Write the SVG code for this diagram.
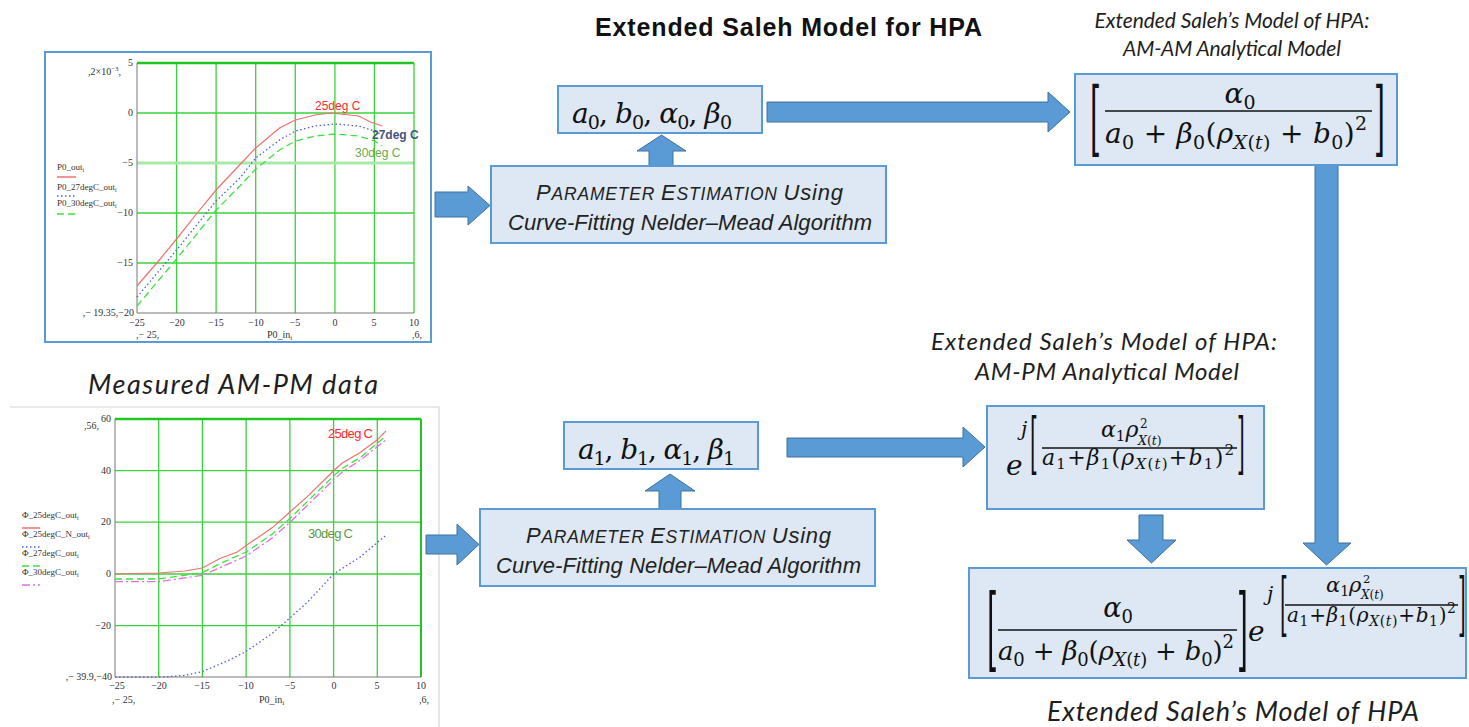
<svg xmlns="http://www.w3.org/2000/svg" width="1469" height="727" viewBox="0 0 1469 727">
<style>
.box{fill:#dde8f4;stroke:#5b9bd5;stroke-width:2}
.arr{fill:#5b9bd5;stroke:#41719c;stroke-width:1}
.m{font-family:"DejaVu Serif",serif;font-style:italic;fill:#111;white-space:pre}
.u{font-style:normal}
.br{font-family:"DejaVu Serif",serif;fill:#111}
.lbl{font-family:Lato,"Liberation Sans",sans-serif;font-style:italic;fill:#1e1e1e}
.est{font-family:"Liberation Sans",Arial,sans-serif;font-style:italic;fill:#222;white-space:pre}
.grid{stroke:#3ad23a;stroke-width:1.3;fill:none}
.tick{font-family:"Liberation Serif",serif;font-size:10px;fill:#333}
.leg{font-family:"Liberation Serif",serif;font-size:9px;fill:#333}
.cl{font-family:"Liberation Sans",Arial,sans-serif}
.bar{stroke:#111;stroke-width:1.4}
</style>

<g id="chart-amam-data">
  <rect x="45" y="52" width="386" height="290" fill="#fff" stroke="#5b9bd5" stroke-width="2"/>
  <g class="grid">
    <line x1="176.6" y1="63" x2="176.6" y2="313"/>
    <line x1="216.1" y1="63" x2="216.1" y2="313"/>
    <line x1="255.7" y1="63" x2="255.7" y2="313"/>
    <line x1="295.3" y1="63" x2="295.3" y2="313"/>
    <line x1="334.9" y1="63" x2="334.9" y2="313"/>
    <line x1="374.4" y1="63" x2="374.4" y2="313"/>
    <line x1="137" y1="113" x2="414" y2="113"/>
    <line x1="137" y1="163" x2="414" y2="163" stroke="#a8e8a8" stroke-width="3"/>
    <line x1="137" y1="213" x2="414" y2="213"/>
    <line x1="137" y1="263" x2="414" y2="263"/>
    <line x1="137" y1="63" x2="414" y2="63" stroke="#22c422" stroke-width="2.5"/>
    <line x1="414" y1="63" x2="414" y2="313"/>
  </g>
  <polyline points="137,63 137,313 414,313" fill="none" stroke="#777" stroke-width="1"/>
  <polyline fill="none" stroke="#f07070" stroke-width="1.2" points="137,286 156.8,263 176.6,239 196.4,214 216.1,190 232,173 255.7,148 279.5,128 295.3,120 315.1,115 331,113 358.6,116 370.5,122 382.3,126"/>
  <polyline fill="none" stroke="#4a5ee8" stroke-width="1.3" stroke-dasharray="1.5,2.5" points="137,297 176.6,250 216.1,201 239.9,178 255.7,158 279.5,140 295.3,131 315.1,126 335,124 358.6,126 374.4,131 382.3,135"/>
  <polyline fill="none" stroke="#3ee03e" stroke-width="1.3" stroke-dasharray="7,4" points="137,306 176.6,259 216.1,210 239.9,186 255.7,169 279.5,150 295.3,141 315.1,136 335,134 358.6,136 374.4,141 382.3,146"/>
  <text class="cl" x="315" y="110" font-size="12" fill="#ff2a2a">25deg C</text>
  <text class="cl" x="372" y="139" font-size="12" fill="#44557d" font-weight="bold">27deg C</text>
  <text class="cl" x="355" y="157" font-size="12" fill="#6aa84f">30deg C</text>
  <g class="tick" text-anchor="end">
    <text x="133" y="66">5</text>
    <text x="133" y="116">0</text>
    <text x="133" y="166">−5</text>
    <text x="133" y="216">−10</text>
    <text x="133" y="266">−15</text>
    <text x="134" y="316">,− 19.35,−20</text>
  </g>
  <text class="tick" x="88" y="75">,2×10<tspan font-size="7" dy="-4">−3</tspan><tspan dy="4">,</tspan></text>
  <g class="tick" text-anchor="middle">
    <text x="137" y="326">−25</text>
    <text x="177" y="326">−20</text>
    <text x="216" y="326">−15</text>
    <text x="256" y="326">−10</text>
    <text x="295" y="326">−5</text>
    <text x="335" y="326">0</text>
    <text x="374" y="326">5</text>
    <text x="414" y="326">10</text>
  </g>
  <text class="tick" x="136" y="338">,− 25,</text>
  <text class="tick" x="267" y="338">P0_in<tspan font-size="7" dy="2">i</tspan></text>
  <text class="tick" x="412" y="338">,6,</text>
  <text class="leg" x="57" y="170">P0_out<tspan font-size="6" dy="2">i</tspan></text>
  <line x1="57" y1="177" x2="76" y2="177" stroke="#f07070" stroke-width="1.5"/>
  <text class="leg" x="57" y="190">P0_27degC_out<tspan font-size="6" dy="2">i</tspan></text>
  <line x1="57" y1="196" x2="76" y2="196" stroke="#4a5ee8" stroke-width="1.3" stroke-dasharray="1.5,2.5"/>
  <text class="leg" x="57" y="206">P0_30degC_out<tspan font-size="6" dy="2">i</tspan></text>
  <line x1="57" y1="214" x2="76" y2="214" stroke="#3ee03e" stroke-width="1.3" stroke-dasharray="7,4"/>
</g>

<g id="label-measured">
  <text class="lbl" x="88" y="394" font-size="27" textLength="290">Measured AM-PM data</text>
</g>

<g id="chart-ampm-data">
  <polyline points="10,407 439,407 439,727" fill="none" stroke="#d4d4d4" stroke-width="1.2"/>
  <g class="grid">
    <line x1="158.7" y1="419" x2="158.7" y2="677"/>
    <line x1="202.4" y1="419" x2="202.4" y2="677"/>
    <line x1="246.1" y1="419" x2="246.1" y2="677"/>
    <line x1="289.9" y1="419" x2="289.9" y2="677"/>
    <line x1="333.6" y1="419" x2="333.6" y2="677"/>
    <line x1="377.3" y1="419" x2="377.3" y2="677"/>
    <line x1="115" y1="470.6" x2="421" y2="470.6"/>
    <line x1="115" y1="522.2" x2="421" y2="522.2"/>
    <line x1="115" y1="574" x2="421" y2="574"/>
    <line x1="115" y1="625.6" x2="421" y2="625.6"/>
    <line x1="115" y1="419" x2="421" y2="419" stroke="#22c422" stroke-width="2.5"/>
    <line x1="421" y1="419" x2="421" y2="677" stroke="#22c422" stroke-width="2"/>
  </g>
  <polyline points="115,419 115,677 421,677" fill="none" stroke="#777" stroke-width="1"/>
  <polyline fill="none" stroke="#f07070" stroke-width="1.2" points="115,574 158.7,573 185,571 202.4,568 219.9,558.5 237.4,552 246.1,545.6 272.4,527.6 289.9,512 307.3,496.6 333.6,470.8 342.3,463 359.8,452.7 377.3,439.8 386,430.8"/>
  <polyline fill="none" stroke="#3ee03e" stroke-width="1.3" stroke-dasharray="7,4" points="115,579 158.7,579 202.4,572.7 219.9,563.7 246.1,552 272.4,534 289.9,518.5 333.6,476 342.3,468.2 359.8,457.9 386,436"/>
  <polyline fill="none" stroke="#e070e0" stroke-width="1.3" stroke-dasharray="8,3,2,3" points="115,581.7 158.7,581.7 202.4,575.3 219.9,567.6 246.1,556 272.4,537.9 289.9,522.4 333.6,479.8 342.3,472 359.8,460.5 386,439.8"/>
  <polyline fill="none" stroke="#4a5ee8" stroke-width="1.3" stroke-dasharray="1.5,2.5" points="115,677.2 158.7,677.2 185,675.4 202.4,671.5 228.7,660.4 246.1,651.4 272.4,633.3 289.9,617.9 307.3,602.4 333.6,574 359.8,557.2 386,535.3"/>
  <text class="cl" x="328" y="438" font-size="13" fill="#ff2a2a" textLength="45">25deg C</text>
  <text class="cl" x="308" y="538" font-size="13" fill="#5e9a46" textLength="45">30deg C</text>
  <g class="tick" text-anchor="end">
    <text x="111" y="422">60</text>
    <text x="111" y="474">40</text>
    <text x="111" y="525">20</text>
    <text x="111" y="577">0</text>
    <text x="111" y="629">−20</text>
    <text x="112" y="680">,− 39.9,−40</text>
  </g>
  <text class="tick" x="84" y="429">,56,</text>
  <g class="tick" text-anchor="middle">
    <text x="117" y="689">−25</text>
    <text x="159" y="689">−20</text>
    <text x="202" y="689">−15</text>
    <text x="246" y="689">−10</text>
    <text x="290" y="689">−5</text>
    <text x="334" y="689">0</text>
    <text x="377" y="689">5</text>
    <text x="421" y="689">10</text>
  </g>
  <text class="tick" x="112" y="703">,− 25,</text>
  <text class="tick" x="259" y="703">P0_in<tspan font-size="7" dy="2">i</tspan></text>
  <text class="tick" x="419" y="703">,6,</text>
  <text class="leg" x="22" y="518">Φ_25degC_out<tspan font-size="6" dy="2">i</tspan></text>
  <line x1="22" y1="528" x2="40" y2="528" stroke="#f07070" stroke-width="1.5"/>
  <text class="leg" x="22" y="537">Φ_25degC_N_out<tspan font-size="6" dy="2">i</tspan></text>
  <line x1="22" y1="547" x2="40" y2="547" stroke="#4a5ee8" stroke-width="1.3" stroke-dasharray="1.5,2.5"/>
  <text class="leg" x="22" y="556">Φ_27degC_out<tspan font-size="6" dy="2">i</tspan></text>
  <line x1="22" y1="566" x2="40" y2="566" stroke="#3ee03e" stroke-width="1.5" stroke-dasharray="7,4"/>
  <text class="leg" x="22" y="575">Φ_30degC_out<tspan font-size="6" dy="2">i</tspan></text>
  <line x1="22" y1="585" x2="40" y2="585" stroke="#e070e0" stroke-width="1.5" stroke-dasharray="8,3,2,3"/>
</g>

<g id="title">
  <text x="595" y="36" font-family="'Liberation Sans',Arial,sans-serif" font-weight="bold" font-size="25" fill="#111" textLength="387">Extended Saleh Model for HPA</text>
</g>

<g id="connectors">
  <polygon class="arr" points="435,192 468,192 468,186 490,205.5 468,225 468,217 435,217"/>
  <polygon class="arr" points="649,166 649,151 637,151 661.5,135 686,151 673,151 673,166"/>
  <polygon class="arr" points="767,102 1048,102 1048,92 1070,112 1048,132 1048,122 767,122"/>
  <polygon class="arr" points="1315,165 1338,165 1338,543 1351,543 1326.5,565 1303,543 1315,543"/>
  <polygon class="arr" points="1139,515 1163,515 1163,540 1176,540 1151.5,563 1127,540 1139,540"/>
  <polygon class="arr" points="787,438 963,438 963,427 985,447 963,467 963,457 787,457"/>
  <polygon class="arr" points="659,509 659,491 645,491 670,474 695,491 681,491 681,509"/>
  <polygon class="arr" points="426,535 457,535 457,524 479,544.5 457,565 457,554 426,554"/>
</g>

<g id="node-params0">
  <rect class="box" x="558" y="86" width="204" height="47"/>
  <text class="m" x="572" y="123" font-size="28" textLength="160">a<tspan class="u" font-size="19" dy="6">0</tspan><tspan class="u" dy="-6">, </tspan>b<tspan class="u" font-size="19" dy="6">0</tspan><tspan class="u" dy="-6">, </tspan>α<tspan class="u" font-size="19" dy="6">0</tspan><tspan class="u" dy="-6">, </tspan>β<tspan class="u" font-size="19" dy="6">0</tspan></text>
</g>

<g id="node-estimation0">
  <rect class="box" x="491" y="166" width="395" height="77"/>
  <text class="est" x="536" y="200" font-size="22" textLength="307">P<tspan font-size="17.5">ARAMETER </tspan>E<tspan font-size="17.5">STIMATION </tspan>Using</text>
  <text class="est" x="508" y="230" font-size="22" textLength="364">Curve-Fitting Nelder–Mead Algorithm</text>
</g>

<g id="label-amam">
  <text class="lbl" x="1232" y="28" font-size="21" text-anchor="middle" textLength="275">Extended Saleh’s Model of HPA:</text>
  <text class="lbl" x="1232" y="56" font-size="21" text-anchor="middle" textLength="218">AM-AM Analytical Model</text>
</g>

<g id="node-amam">
  <rect class="box" x="1075" y="74" width="322" height="91"/>
  <text class="br" font-size="28" transform="translate(1090,146) scale(1,2.92)">[</text>
  <text class="br" font-size="28" transform="translate(1374,146) scale(1,2.92)">]</text>
  <text class="m" x="1240" y="103" font-size="28" text-anchor="middle">α<tspan class="u" font-size="19" dy="6">0</tspan></text>
  <line class="bar" x1="1105" y1="111" x2="1372" y2="111"/>
  <text class="m" x="1105" y="143" font-size="28" textLength="262">a<tspan class="u" font-size="19" dy="6">0</tspan><tspan class="u" dy="-6"> + </tspan>β<tspan class="u" font-size="19" dy="6">0</tspan><tspan class="u" dy="-6">(</tspan>ρ<tspan font-size="19" dy="6">X</tspan><tspan class="u" font-size="19">(</tspan><tspan font-size="19">t</tspan><tspan class="u" font-size="19">)</tspan><tspan class="u" dy="-6"> + </tspan>b<tspan class="u" font-size="19" dy="6">0</tspan><tspan class="u" dy="-6">)</tspan><tspan class="u" font-size="19" dy="-13">2</tspan></text>
</g>

<g id="node-params1">
  <rect class="box" x="564" y="422" width="194" height="47"/>
  <text class="m" x="578" y="459" font-size="28" textLength="157">a<tspan class="u" font-size="19" dy="6">1</tspan><tspan class="u" dy="-6">, </tspan>b<tspan class="u" font-size="19" dy="6">1</tspan><tspan class="u" dy="-6">, </tspan>α<tspan class="u" font-size="19" dy="6">1</tspan><tspan class="u" dy="-6">, </tspan>β<tspan class="u" font-size="19" dy="6">1</tspan></text>
</g>

<g id="node-estimation1">
  <rect class="box" x="480" y="509" width="395" height="77"/>
  <text class="est" x="526" y="543" font-size="22" textLength="305">P<tspan font-size="17.5">ARAMETER </tspan>E<tspan font-size="17.5">STIMATION </tspan>Using</text>
  <text class="est" x="496" y="573" font-size="22" textLength="365">Curve-Fitting Nelder–Mead Algorithm</text>
</g>

<g id="label-ampm">
  <text class="lbl" x="1104" y="350" font-size="24" text-anchor="middle" textLength="346">Extended Saleh’s Model of HPA:</text>
  <text class="lbl" x="1107" y="380" font-size="24" text-anchor="middle" textLength="264">AM-PM Analytical Model</text>
</g>

<g id="node-ampm">
  <rect class="box" x="987" y="406" width="277" height="103"/>
  <text class="m" x="1006" y="475" font-size="28">e</text>
  <text class="m" x="1021" y="436" font-size="20">j</text>
  <text class="br" font-size="20" transform="translate(1030,466) scale(1,3.36)">[</text>
  <text class="br" font-size="20" transform="translate(1237,466) scale(1,3.36)">]</text>
  <text class="m" x="1101" y="437" font-size="22">α<tspan class="u" font-size="15" dy="4">1</tspan><tspan dy="-4">ρ</tspan></text>
  <text class="m u" x="1140" y="428" font-size="12">2</text>
  <text class="m" x="1138" y="445" font-size="12.5">X<tspan class="u">(</tspan>t<tspan class="u">)</tspan></text>
  <line class="bar" x1="1042" y1="448" x2="1237" y2="448" stroke-width="1.2"/>
  <text class="m" x="1042" y="465" font-size="22" textLength="192">a<tspan class="u" font-size="15" dy="4">1</tspan><tspan class="u" dy="-4">+</tspan>β<tspan class="u" font-size="15" dy="4">1</tspan><tspan class="u" dy="-4">(</tspan>ρ<tspan font-size="15" dy="4">X</tspan><tspan class="u" font-size="15">(</tspan><tspan font-size="15">t</tspan><tspan class="u" font-size="15">)</tspan><tspan class="u" dy="-4">+</tspan>b<tspan class="u" font-size="15" dy="4">1</tspan><tspan class="u" dy="-4">)</tspan><tspan class="u" font-size="15" dy="-10">2</tspan></text>
</g>

<g id="node-final">
  <rect class="box" x="969" y="568" width="497" height="110"/>
  <text class="br" font-size="28" transform="translate(987,660) scale(1,3.28)">[</text>
  <text class="br" font-size="28" transform="translate(1237,660) scale(1,3.28)">]</text>
  <text class="m" x="1118" y="617" font-size="27" text-anchor="middle">α<tspan class="u" font-size="18" dy="6">0</tspan></text>
  <line class="bar" x1="998" y1="630" x2="1237" y2="630"/>
  <text class="m" x="998" y="660" font-size="26" textLength="236">a<tspan class="u" font-size="18" dy="6">0</tspan><tspan class="u" dy="-6"> + </tspan>β<tspan class="u" font-size="18" dy="6">0</tspan><tspan class="u" dy="-6">(</tspan>ρ<tspan font-size="18" dy="6">X</tspan><tspan class="u" font-size="18">(</tspan><tspan font-size="18">t</tspan><tspan class="u" font-size="18">)</tspan><tspan class="u" dy="-6"> + </tspan>b<tspan class="u" font-size="18" dy="6">0</tspan><tspan class="u" dy="-6">)</tspan><tspan class="u" font-size="18" dy="-12">2</tspan></text>
  <text class="m" x="1248" y="641" font-size="28">e</text>
  <text class="m" x="1267" y="601" font-size="20">j</text>
  <text class="br" font-size="20" transform="translate(1280,628) scale(1,3.47)">[</text>
  <text class="br" font-size="20" transform="translate(1458,628) scale(1,3.47)">]</text>
  <text class="m" x="1326" y="592" font-size="21">α<tspan class="u" font-size="14" dy="4">1</tspan><tspan dy="-4">ρ</tspan></text>
  <text class="m u" x="1363" y="583" font-size="11.5">2</text>
  <text class="m" x="1361" y="599" font-size="12">X<tspan class="u">(</tspan>t<tspan class="u">)</tspan></text>
  <line class="bar" x1="1285" y1="605" x2="1458" y2="605" stroke-width="1.2"/>
  <text class="m" x="1287" y="622" font-size="20" textLength="169">a<tspan class="u" font-size="14" dy="4">1</tspan><tspan class="u" dy="-4">+</tspan>β<tspan class="u" font-size="14" dy="4">1</tspan><tspan class="u" dy="-4">(</tspan>ρ<tspan font-size="14" dy="4">X</tspan><tspan class="u" font-size="14">(</tspan><tspan font-size="14">t</tspan><tspan class="u" font-size="14">)</tspan><tspan class="u" dy="-4">+</tspan>b<tspan class="u" font-size="14" dy="4">1</tspan><tspan class="u" dy="-4">)</tspan><tspan class="u" font-size="14" dy="-9">2</tspan></text>
</g>

<g id="label-final">
  <text class="lbl" x="1047" y="721" font-size="27" textLength="372">Extended Saleh’s Model of HPA</text>
</g>
</svg>
